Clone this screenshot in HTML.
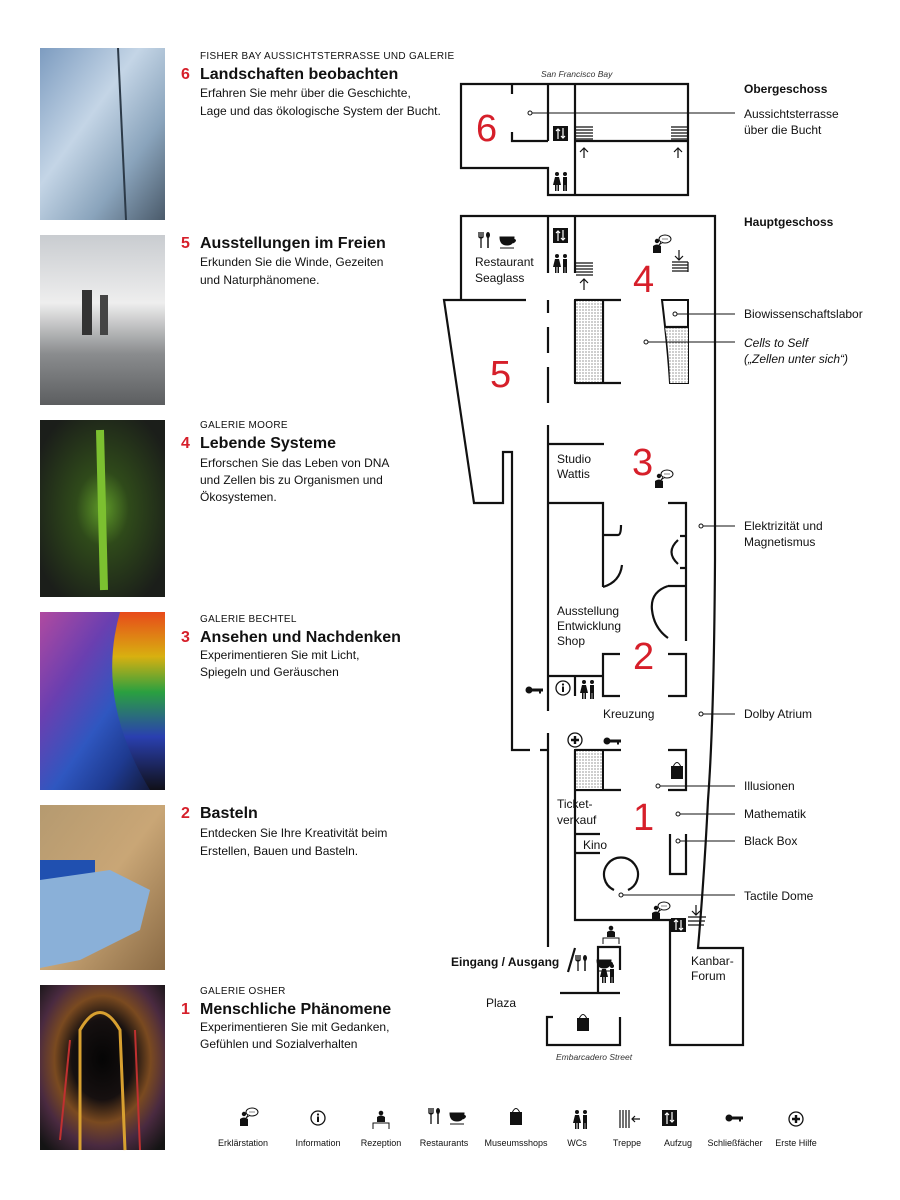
<!DOCTYPE html>
<html><head><meta charset="utf-8"><style>
html,body{margin:0;padding:0;background:#fff;}
svg{display:block;font-family:"Liberation Sans",sans-serif;}
.w{fill:none;stroke:#111;stroke-width:2.2;}
.l{fill:none;stroke:#111;stroke-width:1;}
.t{font-size:12px;fill:#111;}
.s{font-size:12px;fill:#111;}
.h{font-size:16px;font-weight:bold;fill:#111;}
.r{fill:#d61f2a;}
.cap{font-size:10px;fill:#111;letter-spacing:0.3px;}
.big{font-size:38px;fill:#d61f2a;}
.lg{font-size:9px;fill:#111;}
</style></head><body>
<svg width="900" height="1200" viewBox="0 0 900 1200">
<defs>
<pattern id="dots" width="3" height="3" patternUnits="userSpaceOnUse"><rect width="3" height="3" fill="#fff"/><circle cx="1" cy="1" r="0.6" fill="#555"/></pattern>
<linearGradient id="p6" x1="0" y1="0" x2="1" y2="1"><stop offset="0" stop-color="#7d9cc0"/><stop offset=".4" stop-color="#c4d5e6"/><stop offset=".7" stop-color="#8aa4bc"/><stop offset="1" stop-color="#4a5a6a"/></linearGradient>
<linearGradient id="p5" x1="0" y1="0" x2="0" y2="1"><stop offset="0" stop-color="#c9ccd0"/><stop offset=".4" stop-color="#eeeeee"/><stop offset=".7" stop-color="#8a8c8e"/><stop offset="1" stop-color="#5c5e60"/></linearGradient>
<radialGradient id="p4" cx=".5" cy=".5" r=".6"><stop offset="0" stop-color="#5e9a28"/><stop offset=".35" stop-color="#2f4a1a"/><stop offset="1" stop-color="#1b1e1a"/></radialGradient>
<linearGradient id="p3" x1="0" y1="0" x2="1" y2="1"><stop offset="0" stop-color="#b04aa0"/><stop offset=".3" stop-color="#6a3fb0"/><stop offset=".55" stop-color="#2f57c0"/><stop offset=".75" stop-color="#1e3a90"/><stop offset="1" stop-color="#101020"/></linearGradient>
<linearGradient id="p3b" x1="0" y1="0" x2="0" y2="1"><stop offset="0" stop-color="#e84a1a"/><stop offset=".25" stop-color="#d8b010"/><stop offset=".45" stop-color="#2aa040"/><stop offset=".7" stop-color="#2a40b0"/><stop offset="1" stop-color="#101018"/></linearGradient>
<linearGradient id="p2" x1="0" y1="0" x2="1" y2="1"><stop offset="0" stop-color="#b59a70"/><stop offset=".5" stop-color="#c9a676"/><stop offset="1" stop-color="#8a6a44"/></linearGradient>
<radialGradient id="p1" cx=".5" cy=".45" r=".7"><stop offset="0" stop-color="#050505"/><stop offset=".35" stop-color="#161010"/><stop offset=".55" stop-color="#7a4a20"/><stop offset=".75" stop-color="#4a2a40"/><stop offset="1" stop-color="#141414"/></radialGradient>
</defs>

<!-- Photos -->
<rect x="40" y="48" width="125" height="172" fill="url(#p6)"/>
<line x1="118" y1="48" x2="126" y2="220" stroke="#2c3a48" stroke-width="2"/>
<rect x="40" y="235" width="125" height="170" fill="url(#p5)"/>
<rect x="82" y="290" width="10" height="45" fill="#333"/><rect x="100" y="295" width="8" height="40" fill="#444"/>
<rect x="40" y="420" width="125" height="177" fill="url(#p4)"/>
<path d="M100 430 L104 590" stroke="#7cc030" stroke-width="8"/>
<rect x="40" y="612" width="125" height="178" fill="url(#p3)"/>
<path d="M120 612 Q95 700 150 790 L165 790 L165 612 Z" fill="url(#p3b)"/>
<rect x="40" y="805" width="125" height="165" fill="url(#p2)"/>
<rect x="40" y="860" width="55" height="30" fill="#2050b0"/>
<path d="M40 880 L110 870 L150 890 L140 930 L80 960 L40 968 Z" fill="#8ab0d8"/>
<rect x="40" y="985" width="125" height="165" fill="url(#p1)"/>
<path d="M80 1150 L80 1030 Q100 995 120 1030 L125 1150" fill="none" stroke="#d8a030" stroke-width="3"/>
<path d="M60 1140 L70 1040 M140 1150 L135 1030" stroke="#c03030" stroke-width="2"/>

<!-- Left text -->
<text x="200" y="59" class="cap">FISHER BAY AUSSICHTSTERRASSE UND GALERIE</text>
<text x="181" y="79" class="h"><tspan class="r">6</tspan></text><text x="200" y="79" class="h">Landschaften beobachten</text>
<text x="200" y="97" class="s">Erfahren Sie mehr über die Geschichte,</text>
<text x="200" y="115" class="s">Lage und das ökologische System der Bucht.</text>

<text x="181" y="248" class="h"><tspan class="r">5</tspan></text><text x="200" y="248" class="h">Ausstellungen im Freien</text>
<text x="200" y="266" class="s">Erkunden Sie die Winde, Gezeiten</text>
<text x="200" y="284" class="s">und Naturphänomene.</text>

<text x="200" y="428" class="cap">GALERIE MOORE</text>
<text x="181" y="448" class="h"><tspan class="r">4</tspan></text><text x="200" y="448" class="h">Lebende Systeme</text>
<text x="200" y="467" class="s">Erforschen Sie das Leben von DNA</text>
<text x="200" y="484" class="s">und Zellen bis zu Organismen und</text>
<text x="200" y="501" class="s">Ökosystemen.</text>

<text x="200" y="622" class="cap">GALERIE BECHTEL</text>
<text x="181" y="642" class="h"><tspan class="r">3</tspan></text><text x="200" y="642" class="h">Ansehen und Nachdenken</text>
<text x="200" y="659" class="s">Experimentieren Sie mit Licht,</text>
<text x="200" y="676" class="s">Spiegeln und Geräuschen</text>

<text x="181" y="818" class="h"><tspan class="r">2</tspan></text><text x="200" y="818" class="h">Basteln</text>
<text x="200" y="837" class="s">Entdecken Sie Ihre Kreativität beim</text>
<text x="200" y="855" class="s">Erstellen, Bauen und Basteln.</text>

<text x="200" y="994" class="cap">GALERIE OSHER</text>
<text x="181" y="1014" class="h"><tspan class="r">1</tspan></text><text x="200" y="1014" class="h">Menschliche Phänomene</text>
<text x="200" y="1031" class="s">Experimentieren Sie mit Gedanken,</text>
<text x="200" y="1048" class="s">Gefühlen und Sozialverhalten</text>

<!-- Upper floor -->
<text x="541" y="77" font-size="8.5" font-style="italic" fill="#333">San Francisco Bay</text>
<path class="w" d="M461 84 H688 V195 H548 V168 H461 Z"/>
<path class="w" d="M512 84 V94 M512 132 V141 H548 M548 84 V141 M575 84 V195 M575 141 H688"/>
<text x="476" y="141" class="big">6</text>

<!-- Main floor walls -->
<path class="w" d="M461 300 V216 H715 V560 Q714 720 708 800 Q704 880 698 948 H743 V1045 H670 V920 H575 V750"/>
<path class="w" d="M526 300 H444 L474 503 H503 V452 H512 V750 H530 M540 750 H548"/>
<path class="w" d="M548 216 V273 M548 300 V313 M548 327 V353 M548 367 V403 M548 425 V711 M548 733 V947"/>
<path class="w" d="M575 216 V273"/>
<path class="w" d="M575 300 H621 M575 383 H621 M603 300 V383 M575 300 V383"/>
<rect x="575" y="300" width="28" height="83" fill="url(#dots)" stroke="#111" stroke-width="2"/>
<path d="M662 300 H688 V383 H670 Q668 350 662 300 Z" fill="#fff" stroke="#111" stroke-width="2"/>
<path d="M665 327 H688 V383 H670 Q669 350 665 327 Z" fill="url(#dots)" stroke="none"/>
<path class="w" d="M665 327 H688"/>
<path class="w" d="M548 444 H604 M548 503 H603 V587 M603 535 H618 Q621 535 621 525 M603 587 Q620 582 622 565 M668 503 H686 V641 M686 536 H680 M686 568 H680 M678 540 Q665 552 678 564 M668 586 H686 M668 586 Q650 592 652 610 Q654 628 668 638"/>
<path class="w" d="M548 676 H603 M575 676 V696 M620 654 H603 V696 H620 M668 654 H686 V696 H668"/>
<path class="w" d="M575 750 H621 M575 790 H621 M668 750 H686 V790 H668 M670 834 V874 H686 V834"/>
<rect x="575" y="750" width="28" height="40" fill="url(#dots)" stroke="#111" stroke-width="2"/>
<path class="w" d="M575 834 H600 M575 853 H600"/>
<path class="w" d="M614 890 A17 17 0 1 1 628 890"/>
<!-- bottom -->
<path class="w" d="M598 993 V947 H620 V970 M560 993 H620 M547 1023 V1017 H553 M547 1017 V1045 H620 V1017"/>
<path class="w" d="M575 948 L568 972"/>

<!-- big numbers -->
<text x="633" y="292" class="big">4</text>
<text x="490" y="387" class="big">5</text>
<text x="632" y="475" class="big">3</text>
<text x="633" y="669" class="big">2</text>
<text x="633" y="830" class="big">1</text>

<!-- room labels -->
<text x="475" y="266" class="t">Restaurant</text><text x="475" y="282" class="t">Seaglass</text>
<text x="557" y="463" class="t">Studio</text><text x="557" y="478" class="t">Wattis</text>
<text x="557" y="615" class="t">Ausstellung</text><text x="557" y="630" class="t">Entwicklung</text><text x="557" y="645" class="t">Shop</text>
<text x="603" y="718" class="t">Kreuzung</text>
<text x="557" y="808" class="t">Ticket-</text><text x="557" y="824" class="t">verkauf</text>
<text x="583" y="849" class="t">Kino</text>
<text x="691" y="965" class="t">Kanbar-</text><text x="691" y="980" class="t">Forum</text>
<text x="451" y="966" class="t" font-weight="bold">Eingang / Ausgang</text>
<text x="486" y="1007" class="t">Plaza</text>
<text x="556" y="1060" font-size="8.5" font-style="italic" fill="#333">Embarcadero Street</text>

<!-- Leaders -->
<g class="l">
<path d="M530 113 H735 M675 314 H735 M646 342 H735 M701 526 H735 M701 714 H735 M658 786 H735 M678 814 H735 M678 841 H735 M621 895 H735"/>
</g>
<g fill="#fff" stroke="#111" stroke-width="1">
<circle cx="530" cy="113" r="2"/><circle cx="675" cy="314" r="2"/><circle cx="646" cy="342" r="2"/><circle cx="701" cy="526" r="2"/><circle cx="701" cy="714" r="2"/><circle cx="658" cy="786" r="2"/><circle cx="678" cy="814" r="2"/><circle cx="678" cy="841" r="2"/><circle cx="621" cy="895" r="2"/>
</g>

<!-- Right labels -->
<text x="744" y="93" class="t" font-weight="bold">Obergeschoss</text>
<text x="744" y="118" class="t">Aussichtsterrasse</text><text x="744" y="134" class="t">über die Bucht</text>
<text x="744" y="226" class="t" font-weight="bold">Hauptgeschoss</text>
<text x="744" y="318" class="t">Biowissenschaftslabor</text>
<text x="744" y="347" class="t" font-style="italic">Cells to Self</text>
<text x="744" y="363" class="t" font-style="italic">(„Zellen unter sich“)</text>
<text x="744" y="530" class="t">Elektrizität und</text><text x="744" y="546" class="t">Magnetismus</text>
<text x="744" y="718" class="t">Dolby Atrium</text>
<text x="744" y="790" class="t">Illusionen</text>
<text x="744" y="818" class="t">Mathematik</text>
<text x="744" y="845" class="t">Black Box</text>
<text x="744" y="900" class="t">Tactile Dome</text>

<!-- Icons: elevators -->
<g>
<rect x="553" y="126" width="15" height="15" fill="#111"/>
<rect x="553" y="228" width="15" height="15" fill="#111"/>
<rect x="671" y="918" width="15" height="14" fill="#111"/>
<rect x="662" y="1110" width="15" height="16" fill="#111"/>
</g>
<g stroke="#fff" stroke-width="1.2" fill="none">
<path d="M558 139 V129 M556 131 L558 129 L560 131 M563 128 V138 M561 136 L563 138 L565 136"/>
<path d="M558 241 V231 M556 233 L558 231 L560 233 M563 230 V240 M561 238 L563 240 L565 238"/>
<path d="M676 930 V920 M674 922 L676 920 L678 922 M681 920 V930 M679 928 L681 930 L683 928"/>
<path d="M667 1124 V1113 M665 1115 L667 1113 L669 1115 M672 1112 V1122 M670 1120 L672 1122 L674 1120"/>
</g>
<!-- stairs -->
<g stroke="#111" stroke-width="1.2" fill="none">
<path d="M576 127 H593 M576 130 H593 M576 133 H593 M576 136 H593 M576 139 H593"/>
<path d="M671 127 H688 M671 130 H688 M671 133 H688 M671 136 H688 M671 139 H688"/>
<path d="M576 263 H593 M576 266 H593 M576 269 H593 M576 272 H593 M576 275 H593"/>
<path d="M672 262 H688 M672 265 H688 M672 268 H688 M672 271 H688 M688 262 V272"/>
<path d="M688 917 H706 M688 921 H705 M688 925 H704"/>
<path d="M584 148 V158 M580 152 L584 148 L588 152 M678 148 V158 M674 152 L678 148 L682 152 M584 279 V290 M580 283 L584 279 L588 283 M679 250 V260 M675 256 L679 260 L683 256 M696 905 V915 M692 911 L696 915 L700 911"/>
<path d="M620 1110 V1128 M623 1110 V1128 M626 1110 V1128 M629 1110 V1128 M632 1119 H640 M635 1116 L632 1119 L635 1122"/>
</g>
<!-- WCs -->
<g fill="#111">
<g id="wc1"><circle cx="557" cy="174" r="2"/><path d="M555 177 H559 L561 185 H553 Z M555 185 H556.5 V191 H555 Z M557.5 185 H559 V191 H557.5 Z"/><circle cx="565" cy="174" r="2"/><rect x="563" y="177" width="4" height="8"/><rect x="563" y="184" width="1.7" height="7"/><rect x="565.3" y="184" width="1.7" height="7"/></g>
<use href="#wc1" transform="translate(0 82)"/>
<use href="#wc1" transform="translate(27 508)"/>
<use href="#wc1" transform="translate(47 792)"/>
<use href="#wc1" transform="translate(20 938)"/>
</g>
<!-- chat persons -->
<g id="cp1">
<circle cx="657" cy="241" r="2.2" fill="#111"/><path d="M653 253 V246 Q657 243 661 246 V253 Z" fill="#111"/>
<ellipse cx="665" cy="239" rx="6" ry="4" fill="#fff" stroke="#111" stroke-width="1"/><path d="M661 242 L659 245 L663 242" fill="#fff" stroke="#111" stroke-width="0.8"/>
<path d="M662.5 239 h1 M664.5 239 h1 M666.5 239 h1" stroke="#111" stroke-width="1"/>
</g>
<use href="#cp1" transform="translate(2 235)"/>
<use href="#cp1" transform="translate(-1 667)"/>
<use href="#cp1" transform="translate(-413 873)"/>
<!-- fork + cup -->
<g id="fc">
<path d="M481 232 V248 M479 232 V237 Q481 239 483 237 V232" stroke="#111" stroke-width="1.3" fill="none"/>
<ellipse cx="488" cy="235" rx="2" ry="3" fill="#111"/><path d="M488 237 V248" stroke="#111" stroke-width="1.5"/>
<path d="M500 237 H514 Q514 245 507 245 Q500 245 500 237 Z M513 239 Q518 240 513 243" fill="#111" stroke="#111" stroke-width="1"/>
<path d="M500 248 H514" stroke="#111" stroke-width="1"/>
</g>
<use href="#fc" transform="translate(97 723)"/>
<use href="#fc" transform="translate(-50 876)"/>
<!-- keys -->
<g id="key"><circle cx="529" cy="690" r="3.5" fill="#111"/><rect x="531" y="688.5" width="12" height="3" fill="#111"/><rect x="539" y="688.5" width="2" height="5" fill="#111"/></g>
<use href="#key" transform="translate(78 51)"/>
<use href="#key" transform="translate(200 428)"/>
<!-- info -->
<g id="info"><circle cx="563" cy="688" r="7" fill="#fff" stroke="#111" stroke-width="1.3"/><circle cx="563" cy="684.5" r="1.1" fill="#111"/><rect x="562" y="686.5" width="2" height="5.5" fill="#111"/></g>
<use href="#info" transform="translate(-245 430)"/>
<!-- first aid -->
<g id="fa"><circle cx="575" cy="740" r="7" fill="#fff" stroke="#111" stroke-width="1.3"/><path d="M575 736 V744 M571 740 H579" stroke="#111" stroke-width="2.4"/></g>
<use href="#fa" transform="translate(221 379)"/>
<!-- bags -->
<g id="bag"><rect x="671" y="766" width="12" height="13" fill="#111"/><path d="M673 767 Q677 758 681 767" fill="none" stroke="#111" stroke-width="1"/></g>
<use href="#bag" transform="translate(-94 252)"/>
<use href="#bag" transform="translate(-161 346)"/>
<!-- reception -->
<g id="rec"><circle cx="611" cy="928" r="2.3" fill="#111"/><path d="M607 937 V932 Q611 929 615 932 V937 Z" fill="#111"/><path d="M603 944 V938 H619 V944" fill="none" stroke="#111" stroke-width="1"/></g>
<use href="#rec" transform="translate(-230 185)"/>

<!-- legend labels -->
<g class="lg" text-anchor="middle">
<text x="243" y="1146">Erklärstation</text>
<text x="318" y="1146">Information</text>
<text x="381" y="1146">Rezeption</text>
<text x="444" y="1146">Restaurants</text>
<text x="516" y="1146">Museumsshops</text>
<text x="577" y="1146">WCs</text>
<text x="627" y="1146">Treppe</text>
<text x="678" y="1146">Aufzug</text>
<text x="735" y="1146">Schließfächer</text>
<text x="796" y="1146">Erste Hilfe</text>
</g>
</svg>
</body></html>
